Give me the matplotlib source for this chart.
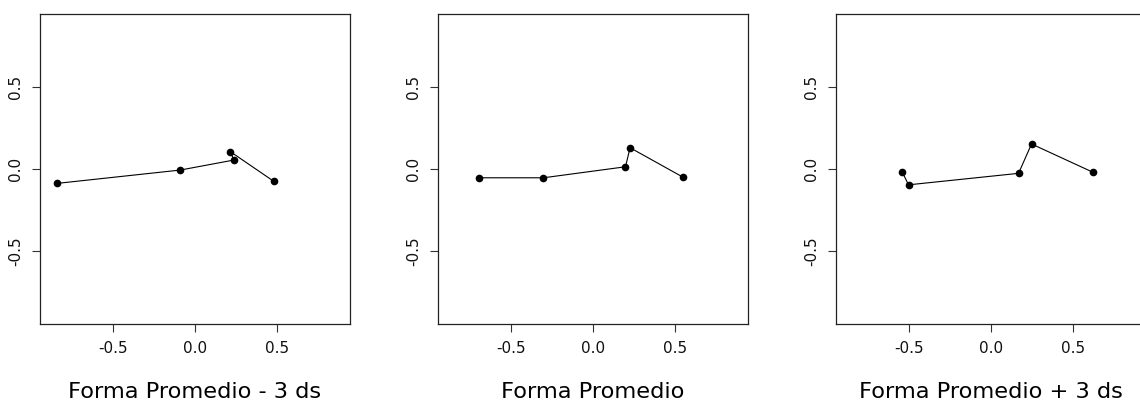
import matplotlib
matplotlib.use("Agg")
import matplotlib.pyplot as plt

# forma promedio +/- 3 ds (5 landmarks each)
titles = ["Forma Promedio - 3 ds", "Forma Promedio", "Forma Promedio + 3 ds"]
x_menos = [-0.840, -0.091, 0.236, 0.215, 0.480]
y_menos = [-0.089, -0.008, 0.053, 0.104, -0.077]
x_prom = [-0.693, -0.301, 0.199, 0.227, 0.549]
y_prom = [-0.055, -0.055, 0.012, 0.128, -0.051]
x_mas = [-0.541, -0.502, 0.169, 0.248, 0.624]
y_mas = [-0.018, -0.098, -0.028, 0.151, -0.022]
ticks = [-0.5, 0.0, 0.5]

W, H = 1140, 407
fig = plt.figure(figsize=(W / 100, H / 100), dpi=100)

formas = [(x_menos, y_menos), (x_prom, y_prom), (x_mas, y_mas)]
lefts = [40, 437.7, 835.7]
lim = 0.946
for i in range(3):
    xs, ys = formas[i]
    ax = fig.add_axes([lefts[i] / W, 83 / H, 310.3 / W, 310.5 / H])
    ax.plot(xs, ys, color="black", lw=0.8, marker="o", ms=4.5, clip_on=False)
    ax.set_xlim(-lim, lim)
    ax.set_ylim(-lim, lim)
    ax.set_xticks(ticks)
    ax.set_yticks(ticks)
    ax.set_xticklabels(["%.1f" % t for t in ticks])
    ax.set_yticklabels(["%.1f" % t for t in ticks], rotation=90, va="center")
    ax.tick_params(length=6, width=0.8, pad=6, labelsize=11, color="#333333",
                   labelcolor="#111111")
    for s in ax.spines.values():
        s.set_linewidth(0.9)
        s.set_color("#222222")
    fig.text((lefts[i] + 155) / W, (H - 392) / H, titles[i],
             ha="center", va="center", fontsize=16.2)

fig.savefig("out.png", dpi=100)
